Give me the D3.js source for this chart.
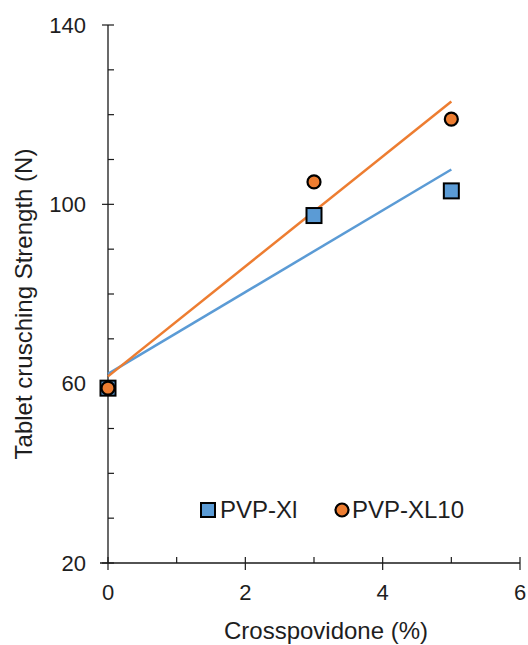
<!DOCTYPE html>
<html>
<head>
<meta charset="utf-8">
<script src="https://cdn.jsdelivr.net/npm/d3@7"></script>
<style>
  body { margin: 0; background: #fff; }
  text { font-family: "Liberation Sans", Arial, sans-serif; fill: #1e1e1e; }
</style>
</head>
<body>
<script>
//data
var xValues = [0, 3, 5];
var pvpXl = [59, 97.5, 103];
var pvpXl10 = [59, 105, 119];
var seriesNames = ["PVP-Xl", "PVP-XL10"];
var xTicks = [0, 2, 4, 6];
var yTicks = [20, 60, 100, 140];

var w = 528, h = 645;
var svg = d3.select("body").append("svg")
    .attr("width", w)
    .attr("height", h);

//scales
var x = d3.scaleLinear().domain([0, 6]).range([108, 520]);
var y = d3.scaleLinear().domain([20, 140]).range([563, 25]);

//least squares trend line
function fit(xs, ys){
    var mx = d3.mean(xs), my = d3.mean(ys);
    var sxy = d3.sum(xs, function(d, i){ return (d - mx) * (ys[i] - my); });
    var sxx = d3.sum(xs, function(d){ return (d - mx) * (d - mx); });
    var b = sxy / sxx;
    return {a: my - b * mx, b: b};
}

var axisColor = "#1a1a1a";

//y axis line and ticks
svg.append("line")
    .attr("x1", x(0)).attr("x2", x(0))
    .attr("y1", y(140)).attr("y2", y(20))
    .attr("stroke", axisColor).attr("stroke-width", 1.3);

svg.selectAll(".yminor")
    .data(d3.range(20, 141, 10))
    .enter().append("line")
    .attr("x1", function(d){ return yTicks.indexOf(d) >= 0 ? x(0) - 6 : x(0); })
    .attr("x2", function(d){ return x(0) + 6; })
    .attr("y1", function(d){ return y(d); })
    .attr("y2", function(d){ return y(d); })
    .attr("stroke", axisColor).attr("stroke-width", 1.2);

svg.selectAll(".ylabel")
    .data(yTicks)
    .enter().append("text")
    .attr("x", 86)
    .attr("y", function(d){ return y(d); })
    .attr("dy", "0.35em")
    .attr("text-anchor", "end")
    .style("font-size", "22px")
    .text(function(d){ return d; });

//x axis line and ticks
svg.append("line")
    .attr("x1", x(0) - 8).attr("x2", x(6))
    .attr("y1", y(20)).attr("y2", y(20))
    .attr("stroke", axisColor).attr("stroke-width", 1.3);

svg.selectAll(".xminor")
    .data(d3.range(0, 7, 1))
    .enter().append("line")
    .attr("x1", function(d){ return x(d); })
    .attr("x2", function(d){ return x(d); })
    .attr("y1", function(d){ return y(20) - 6; })
    .attr("y2", function(d){ return xTicks.indexOf(d) >= 0 ? y(20) + 7 : y(20); })
    .attr("stroke", axisColor).attr("stroke-width", 1.2);

svg.selectAll(".xlabel")
    .data(xTicks)
    .enter().append("text")
    .attr("x", function(d){ return x(d); })
    .attr("y", 600)
    .attr("text-anchor", "middle")
    .style("font-size", "22px")
    .text(function(d){ return d; });

//axis titles
svg.append("text")
    .attr("x", 326)
    .attr("y", 639)
    .attr("text-anchor", "middle")
    .style("font-size", "24px")
    .text("Crosspovidone (%)");

svg.append("text")
    .attr("transform", "translate(32,304) rotate(-90)")
    .attr("text-anchor", "middle")
    .style("font-size", "24px")
    .text("Tablet crusching Strength (N)");

var series = [
    {name: seriesNames[0], values: pvpXl, color: "#5B9BD5", shape: "square"},
    {name: seriesNames[1], values: pvpXl10, color: "#ED7D31", shape: "circle"}
];

//trend lines
series.forEach(function(s){
    var f = fit(xValues, s.values);
    svg.append("line")
        .attr("x1", x(0)).attr("y1", y(f.a))
        .attr("x2", x(5)).attr("y2", y(f.a + f.b * 5))
        .attr("stroke", s.color)
        .attr("stroke-width", 2.5);
});

//markers
series.forEach(function(s){
    var pts = xValues.map(function(d, i){ return [d, s.values[i]]; });
    if (s.shape === "square") {
        svg.selectAll(".sq")
            .data(pts)
            .enter().append("rect")
            .attr("x", function(d){ return x(d[0]) - 7.5; })
            .attr("y", function(d){ return y(d[1]) - 7.5; })
            .attr("width", 15).attr("height", 15)
            .attr("fill", s.color)
            .attr("stroke", "#000").attr("stroke-width", 2);
    } else {
        svg.selectAll(".ci")
            .data(pts)
            .enter().append("circle")
            .attr("cx", function(d){ return x(d[0]); })
            .attr("cy", function(d){ return y(d[1]); })
            .attr("r", 6.5)
            .attr("fill", s.color)
            .attr("stroke", "#000").attr("stroke-width", 2.2);
    }
});

//legend
var legend = svg.append("g");
legend.append("rect")
    .attr("x", 201).attr("y", 503)
    .attr("width", 14).attr("height", 14)
    .attr("fill", series[0].color)
    .attr("stroke", "#000").attr("stroke-width", 2);
legend.append("text")
    .attr("x", 220).attr("y", 510).attr("dy", "0.35em")
    .style("font-size", "24px")
    .text(series[0].name);
legend.append("circle")
    .attr("cx", 342).attr("cy", 510).attr("r", 6.5)
    .attr("fill", series[1].color)
    .attr("stroke", "#000").attr("stroke-width", 2.2);
legend.append("text")
    .attr("x", 352).attr("y", 510).attr("dy", "0.35em")
    .style("font-size", "24px")
    .text(series[1].name);
</script>
</body>
</html>
